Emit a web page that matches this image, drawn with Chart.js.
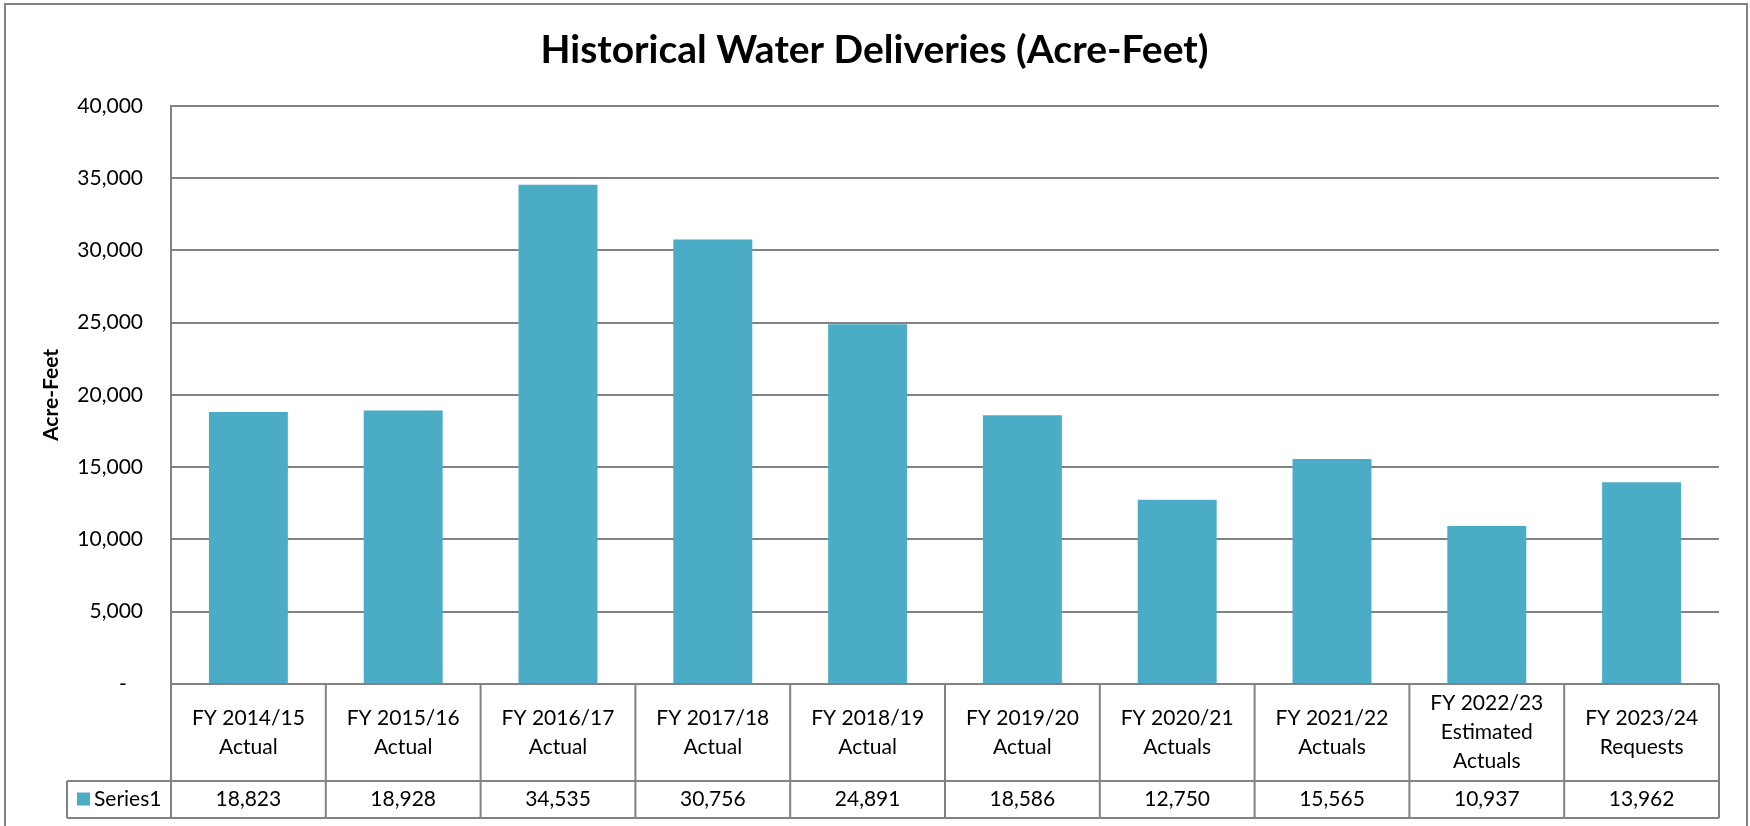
<!DOCTYPE html>
<html>
<head>
<meta charset="utf-8">
<script src="https://cdn.jsdelivr.net/npm/chart.js@4.4.0/dist/chart.umd.min.js"></script>
<style>
  html, body { margin: 0; padding: 0; background: #ffffff; }
  #wrap { width: 1750px; height: 826px; position: relative; }
</style>
</head>
<body>
<div id="wrap"><canvas id="c" width="1750" height="826"></canvas></div>
<script>
const categories = [
  ["FY 2014/15", "Actual"],
  ["FY 2015/16", "Actual"],
  ["FY 2016/17", "Actual"],
  ["FY 2017/18", "Actual"],
  ["FY 2018/19", "Actual"],
  ["FY 2019/20", "Actual"],
  ["FY 2020/21", "Actuals"],
  ["FY 2021/22", "Actuals"],
  ["FY 2022/23", "Estimated", "Actuals"],
  ["FY 2023/24", "Requests"]
];
const seriesName = "Series1";
const deliveries = [18823, 18928, 34535, 30756, 24891, 18586, 12750, 15565, 10937, 13962];
const yTicks = [0, 5000, 10000, 15000, 20000, 25000, 30000, 35000, 40000];

const BAR_COLOR = "#4BACC6";
const LINE_COLOR = "#828282";
const FONT = "Lato";

function fmt(v) {
  if (v === 0) return "-   ";
  return v.toLocaleString("en-US");
}

const tablePlugin = {
  id: "dataTable",
  afterDraw(chart) {
    const ctx = chart.ctx;
    const xs = chart.scales.x;
    const area = chart.chartArea;
    const n = categories.length;
    const colW = (area.right - area.left) / n;
    const top = area.bottom;
    const mid = top + 97;
    const bot = mid + 37;
    const legendLeft = 67;

    ctx.save();
    // outer chart border
    ctx.strokeStyle = LINE_COLOR;
    ctx.lineWidth = 2;
    ctx.strokeRect(5, 4, 1742, 840);

    // table lines
    ctx.strokeStyle = LINE_COLOR;
    ctx.lineWidth = 2;
    ctx.beginPath();
    ctx.moveTo(area.left, top); ctx.lineTo(area.right, top);
    ctx.moveTo(legendLeft, mid); ctx.lineTo(area.right, mid);
    ctx.moveTo(legendLeft, bot); ctx.lineTo(area.right, bot);
    ctx.moveTo(legendLeft, mid); ctx.lineTo(legendLeft, bot);
    for (let i = 0; i <= n; i++) {
      const x = i < n ? xs.getPixelForValue(i) - colW / 2 : xs.getPixelForValue(n - 1) + colW / 2;
      ctx.moveTo(x, top); ctx.lineTo(x, bot);
    }
    ctx.stroke();

    // texts
    ctx.fillStyle = "#000000";
    ctx.font = "21px " + FONT;
    ctx.textAlign = "center";
    ctx.textBaseline = "middle";
    const lh = 29;
    const rowMid = (top + mid) / 2;
    for (let i = 0; i < n; i++) {
      const cx = xs.getPixelForValue(i);
      const lines = categories[i];
      const y0 = rowMid - (lines.length - 1) * lh / 2;
      lines.forEach((t, k) => ctx.fillText(t, cx, y0 + k * lh));
      ctx.fillText(deliveries[i].toLocaleString("en-US"), cx, (mid + bot) / 2);
    }
    // legend cell
    ctx.fillStyle = BAR_COLOR;
    ctx.fillRect(77, (mid + bot) / 2 - 7, 13, 13);
    ctx.fillStyle = "#000000";
    ctx.textAlign = "left";
    ctx.fillText(seriesName, 94, (mid + bot) / 2);
    ctx.restore();
  }
};

new Chart(document.getElementById("c"), {
  type: "bar",
  data: {
    labels: categories,
    datasets: [{
      label: seriesName,
      data: deliveries,
      backgroundColor: BAR_COLOR,
      borderWidth: 0,
      barPercentage: 0.51,
      categoryPercentage: 1.0
    }]
  },
  options: {
    responsive: false,
    animation: false,
    devicePixelRatio: 1,
    layout: { padding: { left: 30, right: 31, top: 0, bottom: 142 } },
    plugins: {
      legend: { display: false },
      tooltip: { enabled: false },
      title: {
        display: true,
        text: "Historical Water Deliveries (Acre-Feet)",
        color: "#000000",
        font: { family: FONT, size: 39, weight: "bold", lineHeight: 1.2 },
        padding: { top: 27, bottom: 32 }
      }
    },
    scales: {
      x: {
        display: true,
        ticks: { display: false },
        grid: { display: false, drawTicks: false },
        border: { display: false }
      },
      y: {
        min: 0,
        max: 40000,
        afterBuildTicks(scale) { scale.ticks = yTicks.map(v => ({ value: v })); },
        afterFit(scale) { scale.width = 171 - 30; },
        ticks: {
          color: "#000000",
          font: { family: FONT, size: 21 },
          padding: 28,
          callback: (v) => fmt(v)
        },
        grid: { color: LINE_COLOR, lineWidth: 2, drawTicks: false },
        border: { display: true, color: LINE_COLOR, width: 2 },
        title: {
          display: true,
          text: "Acre-Feet",
          color: "#000000",
          font: { family: FONT, size: 21, weight: "bold", lineHeight: 1.2 },
          padding: { top: 9, bottom: 0 }
        }
      }
    }
  },
  plugins: [tablePlugin]
});
</script>
</body>
</html>
